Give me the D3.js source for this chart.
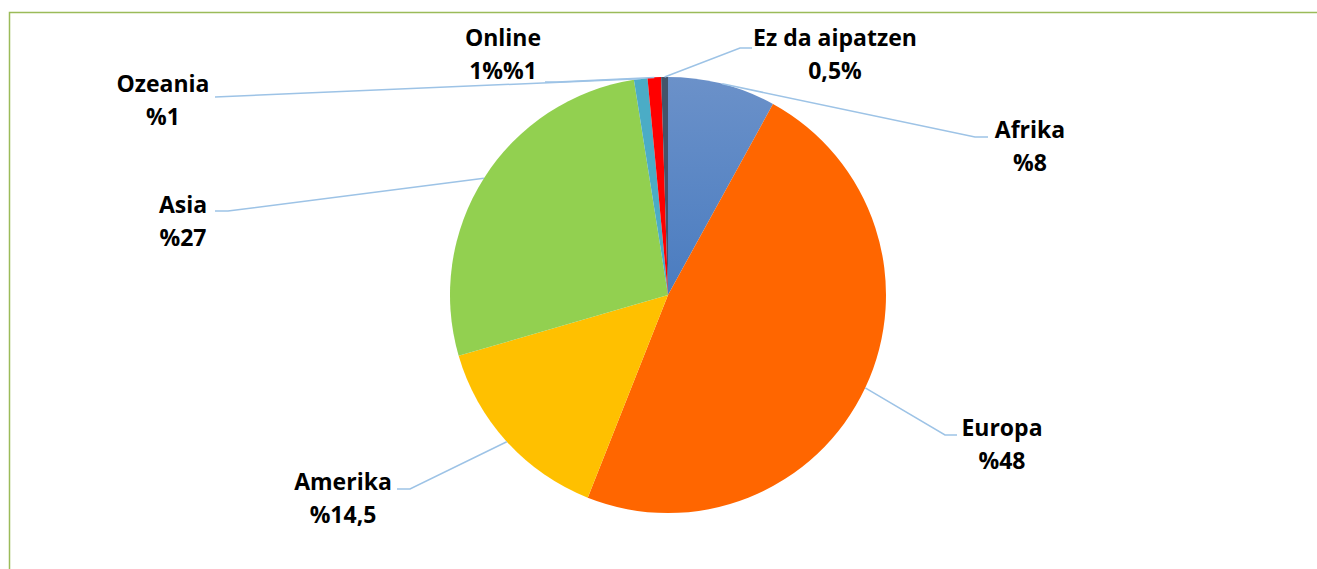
<!DOCTYPE html>
<html>
<head>
<meta charset="utf-8">
<script src="https://cdn.jsdelivr.net/npm/d3@7"></script>
<style>
  body { margin: 0; background: #fff; }
  text { font-family: "Open Sans", "Liberation Sans", sans-serif; font-weight: bold; fill: #000; }
</style>
</head>
<body>
<div id="container"></div>
<script>
/** DATA */
const categories = ["Afrika", "Europa", "Amerika", "Asia", "Ozeania", "Online", "Ez da aipatzen"];
const values = [8, 48, 14.5, 27, 1, 1, 0.5];
const valueLabels = ["%8", "%48", "%14,5", "%27", "%1", "1%%1", "0,5%"];
const colors = ["url(#afrikaGrad)", "#ff6600", "#ffc000", "#92d050", "#4bacc6", "#ff0000", "#44546a"];

/** LAYOUT */
const width = 1317, height = 569;
const cx = 668, cy = 295, radius = 218;
// label centre x and first-line baseline y, plus the elbow of each leader line
const labelPos = [
  { x: 1030, y: 138, elbow: [975, 137], end: [988, 137] },
  { x: 1002, y: 436, elbow: [945, 435], end: [957, 435] },
  { x: 343, y: 490, elbow: [410, 489], end: [397, 489] },
  { x: 183, y: 213, elbow: [228, 211], end: [215, 211] },
  { x: 163, y: 92, elbow: null, end: [215, 97] },
  { x: 503, y: 46, elbow: [557, 82], end: [545, 82] },
  { x: 835, y: 46, elbow: [740, 48], end: [752, 48] }
];
const lineGap = 33;

const svg = d3.select("#container").append("svg")
  .attr("width", width)
  .attr("height", height);

const defs = svg.append("defs");
const grad = defs.append("linearGradient")
  .attr("id", "afrikaGrad")
  .attr("x1", 0).attr("y1", 0).attr("x2", 0).attr("y2", 1);
grad.append("stop").attr("offset", "0%").attr("stop-color", "#6b91c9");
grad.append("stop").attr("offset", "100%").attr("stop-color", "#4a7cc0");

// chart frame
svg.append("rect")
  .attr("x", 9.5).attr("y", 12.5)
  .attr("width", width + 10).attr("height", height + 10)
  .attr("fill", "none")
  .attr("stroke", "#9bbb59")
  .attr("stroke-width", 1.5);

const data = categories.map((c, i) => ({ name: c, value: values[i], label: valueLabels[i], color: colors[i], pos: labelPos[i] }));

const pie = d3.pie().sort(null).value(d => d.value);
const arcs = pie(data);
const arc = d3.arc().innerRadius(0).outerRadius(radius);
const edgeArc = d3.arc().innerRadius(radius).outerRadius(radius);

const g = svg.append("g").attr("transform", `translate(${cx},${cy})`);

g.selectAll("path.slice")
  .data(arcs)
  .join("path")
  .attr("class", "slice")
  .attr("d", arc)
  .attr("fill", d => d.data.color);

// leader lines
const lineGen = d3.line();
svg.selectAll("path.leader")
  .data(arcs)
  .join("path")
  .attr("class", "leader")
  .attr("d", d => {
    const c = edgeArc.centroid(d);
    const pts = [[cx + c[0], cy + c[1]]];
    if (d.data.pos.elbow) pts.push(d.data.pos.elbow);
    pts.push(d.data.pos.end);
    return lineGen(pts);
  })
  .attr("fill", "none")
  .attr("stroke", "#9dc3e6")
  .attr("stroke-width", 1.5);

// labels
const labels = svg.selectAll("text.lbl")
  .data(arcs)
  .join("text")
  .attr("class", "lbl")
  .attr("text-anchor", "middle")
  .style("font-size", "23px");

labels.append("tspan")
  .attr("x", d => d.data.pos.x)
  .attr("y", d => d.data.pos.y)
  .text(d => d.data.name);

labels.append("tspan")
  .attr("x", d => d.data.pos.x)
  .attr("y", d => d.data.pos.y + lineGap)
  .text(d => d.data.label);
</script>
</body>
</html>
